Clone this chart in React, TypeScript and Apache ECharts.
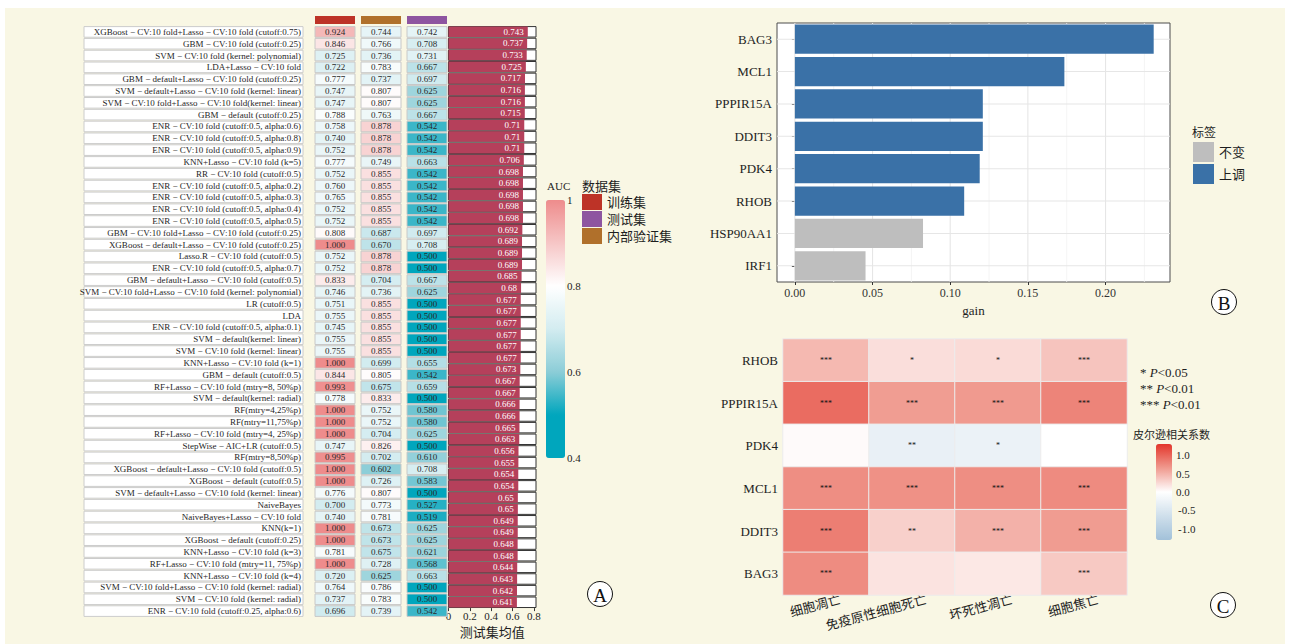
import React, { useEffect, useRef } from "react";
import * as echarts from "echarts";

// ---------- Panel A: model AUC table ----------
const modelNames = [
  "XGBoost − CV:10 fold+Lasso − CV:10 fold (cutoff:0.75)",
  "GBM − CV:10 fold (cutoff:0.25)",
  "SVM − CV:10 fold (kernel: polynomial)",
  "LDA+Lasso − CV:10 fold",
  "GBM − default+Lasso − CV:10 fold (cutoff:0.25)",
  "SVM − default+Lasso − CV:10 fold (kernel: linear)",
  "SVM − CV:10 fold+Lasso − CV:10 fold(kernel: linear)",
  "GBM − default (cutoff:0.25)",
  "ENR − CV:10 fold (cutoff:0.5, alpha:0.6)",
  "ENR − CV:10 fold (cutoff:0.5, alpha:0.8)",
  "ENR − CV:10 fold (cutoff:0.5, alpha:0.9)",
  "KNN+Lasso − CV:10 fold (k=5)",
  "RR − CV:10 fold (cutoff:0.5)",
  "ENR − CV:10 fold (cutoff:0.5, alpha:0.2)",
  "ENR − CV:10 fold (cutoff:0.5, alpha:0.3)",
  "ENR − CV:10 fold (cutoff:0.5, alpha:0.4)",
  "ENR − CV:10 fold (cutoff:0.5, alpha:0.5)",
  "GBM − CV:10 fold+Lasso − CV:10 fold (cutoff:0.25)",
  "XGBoost − default+Lasso − CV:10 fold (cutoff:0.25)",
  "Lasso.R − CV:10 fold (cutoff:0.5)",
  "ENR − CV:10 fold (cutoff:0.5, alpha:0.7)",
  "GBM − default+Lasso − CV:10 fold (cutoff:0.5)",
  "SVM − CV:10 fold+Lasso − CV:10 fold (kernel: polynomial)",
  "LR (cutoff:0.5)",
  "LDA",
  "ENR − CV:10 fold (cutoff:0.5, alpha:0.1)",
  "SVM − default(kernel: linear)",
  "SVM − CV:10 fold (kernel: linear)",
  "KNN+Lasso − CV:10 fold (k=1)",
  "GBM − default (cutoff:0.5)",
  "RF+Lasso − CV:10 fold (mtry=8, 50%p)",
  "SVM − default(kernel: radial)",
  "RF(mtry=4,25%p)",
  "RF(mtry=11,75%p)",
  "RF+Lasso − CV:10 fold (mtry=4, 25%p)",
  "StepWise − AIC+LR (cutoff:0.5)",
  "RF(mtry=8,50%p)",
  "XGBoost − default+Lasso − CV:10 fold (cutoff:0.5)",
  "XGBoost − default (cutoff:0.5)",
  "SVM − default+Lasso − CV:10 fold (kernel: linear)",
  "NaiveBayes",
  "NaiveBayes+Lasso − CV:10 fold",
  "KNN(k=1)",
  "XGBoost − default (cutoff:0.25)",
  "KNN+Lasso − CV:10 fold (k=3)",
  "RF+Lasso − CV:10 fold (mtry=11, 75%p)",
  "KNN+Lasso − CV:10 fold (k=4)",
  "SVM − CV:10 fold+Lasso − CV:10 fold (kernel: radial)",
  "SVM − CV:10 fold (kernel: radial)",
  "ENR − CV:10 fold (cutoff:0.25, alpha:0.6)",
];

const trainAUC = [
  0.924, 0.846, 0.725, 0.722, 0.777, 0.747, 0.747, 0.788, 0.758, 0.74,
  0.752, 0.777, 0.752, 0.76, 0.765, 0.752, 0.752, 0.808, 1.0, 0.752,
  0.752, 0.833, 0.746, 0.751, 0.755, 0.745, 0.755, 0.755, 1.0, 0.844,
  0.993, 0.778, 1.0, 1.0, 1.0, 0.747, 0.995, 1.0, 1.0, 0.776,
  0.7, 0.74, 1.0, 1.0, 0.781, 1.0, 0.72, 0.764, 0.737, 0.696,
];

const internalAUC = [
  0.744, 0.766, 0.736, 0.783, 0.737, 0.807, 0.807, 0.763, 0.878, 0.878,
  0.878, 0.749, 0.855, 0.855, 0.855, 0.855, 0.855, 0.687, 0.67, 0.878,
  0.878, 0.704, 0.736, 0.855, 0.855, 0.855, 0.855, 0.855, 0.699, 0.805,
  0.675, 0.833, 0.752, 0.752, 0.704, 0.826, 0.702, 0.602, 0.726, 0.807,
  0.773, 0.781, 0.673, 0.673, 0.675, 0.728, 0.625, 0.786, 0.783, 0.739,
];

const testAUC = [
  0.742, 0.708, 0.731, 0.667, 0.697, 0.625, 0.625, 0.667, 0.542, 0.542,
  0.542, 0.663, 0.542, 0.542, 0.542, 0.542, 0.542, 0.697, 0.708, 0.5,
  0.5, 0.667, 0.625, 0.5, 0.5, 0.5, 0.5, 0.5, 0.655, 0.542,
  0.659, 0.5, 0.58, 0.58, 0.625, 0.5, 0.61, 0.708, 0.583, 0.5,
  0.527, 0.519, 0.625, 0.625, 0.621, 0.568, 0.663, 0.5, 0.5, 0.542,
];

const meanAUC = [
  0.743, 0.737, 0.733, 0.725, 0.717, 0.716, 0.716, 0.715, 0.71, 0.71,
  0.71, 0.706, 0.698, 0.698, 0.698, 0.698, 0.698, 0.692, 0.689, 0.689,
  0.689, 0.685, 0.68, 0.677, 0.677, 0.677, 0.677, 0.677, 0.677, 0.673,
  0.667, 0.667, 0.666, 0.666, 0.665, 0.663, 0.656, 0.655, 0.654, 0.654,
  0.65, 0.65, 0.649, 0.649, 0.648, 0.648, 0.644, 0.643, 0.642, 0.641,
];

const aucColumns = ["训练集", "内部验证集", "测试集"];
const aucColumnColors = ["#bd3327", "#b0702b", "#8e55a0"];
const datasetLegend = ["训练集", "测试集", "内部验证集"];
const datasetLegendColors = ["#bd3327", "#8e55a0", "#b0702b"];
const aucTicks = [1, 0.8, 0.6, 0.4];
const meanTicks = [0, 0.2, 0.4, 0.6, 0.8];

// ---------- Panel B: feature gain ----------
const genes = ["BAG3", "MCL1", "PPPIR15A", "DDIT3", "PDK4", "RHOB", "HSP90AA1", "IRF1"];
const gains = [0.231, 0.1735, 0.121, 0.121, 0.119, 0.109, 0.0825, 0.0455];
const geneStatus = ["上调", "上调", "上调", "上调", "上调", "上调", "不变", "不变"];
const gainTicks = [0, 0.05, 0.1, 0.15, 0.2];
const gainMinorTicks = [0.025, 0.075, 0.125, 0.175, 0.225];

// ---------- Panel C: correlation heatmap ----------
const deathTypes = ["细胞凋亡", "免疫原性细胞死亡", "坏死性凋亡", "细胞焦亡"];
const corrGenes = ["RHOB", "PPPIR15A", "PDK4", "MCL1", "DDIT3", "BAG3"];
const corrValues = [
  [0.45, 0.21, 0.23, 0.38],
  [0.95, 0.63, 0.65, 0.79],
  [0.03, -0.3, -0.27, 0.0],
  [0.73, 0.71, 0.73, 0.75],
  [0.83, 0.3, 0.5, 0.64],
  [0.74, 0.18, 0.15, 0.35],
];
const corrStars = [
  ["***", "*", "*", "***"],
  ["***", "***", "***", "***"],
  ["", "**", "*", ""],
  ["***", "***", "***", "***"],
  ["***", "**", "***", "***"],
  ["***", "", "", "***"],
];
const corrTicks = [1.0, 0.5, 0.0, -0.5, -1.0];

const FONT = "Liberation Serif, Noto Sans CJK SC, serif";
const TXT = "#1e1e1e";

// row block shared by the three table grids
const ROWS_TOP = 26;
const ROWS_H = 591;

// colour-bar geometry
const AUC_BAR = { left: 546, top: 200, w: 19, h: 258, min: 0.4, max: 1 };
const COR_BAR = { left: 1156, top: 444, w: 16, h: 96, min: -1.3, max: 1.3 };

function barY(bar: typeof AUC_BAR, v: number) {
  return bar.top + ((bar.max - v) / (bar.max - bar.min)) * bar.h;
}

function circleLabel(cx: number, cy: number, letter: string) {
  return [
    { type: "circle", shape: { cx, cy, r: 12.5 }, style: { fill: "#ffffff", stroke: "#111", lineWidth: 1 } },
    {
      type: "text",
      x: cx,
      y: cy + 1,
      style: { text: letter, align: "center", verticalAlign: "middle", fontSize: 19, fontFamily: FONT, fill: "#111" },
    },
  ];
}

export default function App() {
  const ref = useRef<HTMLDivElement>(null);

  useEffect(() => {
    document.body.style.margin = "0";
    const chart = echarts.init(ref.current!, null, { renderer: "svg" });

    const rowIdx = modelNames.map((_, i) => i);
    const labelData = modelNames.map((_, i) => [0, i]);
    const cellData: number[][] = [];
    [trainAUC, internalAUC, testAUC].forEach((arr, c) => arr.forEach((v, r) => cellData.push([c, r, v])));

    const heatData: number[][] = [];
    corrValues.forEach((row, r) => row.forEach((v, c) => heatData.push([c, r, v])));

    // panel B grid lines: [x, y, kind] — 0 major vertical, 1 minor vertical, 2 horizontal
    const gainGridLines: number[][] = [
      ...gainTicks.map((v) => [v, 0, 0]),
      ...gainMinorTicks.map((v) => [v, 0, 1]),
      ...genes.map((_, i) => [0, i, 2]),
    ];

    const rowAxis = (gridIndex: number) => ({
      gridIndex,
      type: "category",
      data: rowIdx,
      inverse: true,
      show: false,
    });

    const txt = (x: number, y: number, text: string, fontSize: number, extra: any = {}) => ({
      type: "text",
      x,
      y,
      style: { text, fontSize, fontFamily: FONT, fill: TXT, verticalAlign: "middle", ...extra },
    });

    const graphics: any[] = [
      // AUC legend
      txt(547, 186, "AUC", 11),
      ...aucTicks.map((t) => txt(567, barY(AUC_BAR, t), String(t), 11)),
      txt(582, 186, "数据集", 13),
      ...datasetLegend.flatMap((name, i) => [
        {
          type: "rect",
          shape: { x: 582, y: 194 + i * 17, width: 20, height: 16 },
          style: { fill: datasetLegendColors[i] },
        },
        txt(607, 202 + i * 17, name, 13),
      ]),
      // panel B legend title
      txt(1192, 133, "标签", 12),
      // panel C significance notes
      ...["*", "**", "***"].map((s, i) => ({
        type: "text",
        x: 1140,
        y: [372, 388, 404][i],
        style: {
          text: `{s|${s} }{p|P}{s|<${i === 0 ? "0.05" : "0.01"}}`,
          verticalAlign: "middle",
          rich: {
            s: { fontSize: 13, fontFamily: FONT, fill: TXT },
            p: { fontSize: 13, fontFamily: FONT, fontStyle: "italic", fill: TXT },
          },
        },
      })),
      txt(1133, 435, "皮尔逊相关系数", 11),
      ...corrTicks.map((t) => txt(t < 0 ? 1178 : 1176, barY(COR_BAR, t), t.toFixed(1), 11)),
      ...circleLabel(600, 594, "A"),
      ...circleLabel(1224, 302, "B"),
      ...circleLabel(1223, 605, "C"),
    ];

    const option: any = {
      animation: false,
      textStyle: { fontFamily: FONT },
      grid: [
        { left: 84, top: ROWS_TOP, width: 219, height: ROWS_H },
        { left: 312, top: ROWS_TOP, width: 138, height: ROWS_H },
        { left: 448.5, top: ROWS_TOP, width: 87.5, height: ROWS_H },
        { left: 777, top: 23, width: 393, height: 259, show: true, backgroundColor: "#ffffff", borderColor: "#4d4d4d", borderWidth: 1 },
        { left: 783, top: 339, width: 344, height: 256 },
      ],
      xAxis: [
        { gridIndex: 0, type: "value", min: 0, max: 1, show: false },
        {
          gridIndex: 1,
          type: "category",
          data: aucColumns,
          position: "top",
          axisLine: { show: false },
          axisTick: { show: false },
          axisLabel: {
            margin: 2,
            formatter: (_v: string, i: number) => `{h${i}| }`,
            rich: Object.fromEntries(
              aucColumnColors.map((c, i) => [`h${i}`, { backgroundColor: c, width: 40, height: 8, fontSize: 1, lineHeight: 8 }])
            ),
          },
        },
        {
          gridIndex: 2,
          type: "value",
          min: 0,
          max: 0.82,
          interval: 0.2,
          axisLine: { show: false },
          axisTick: { show: true, length: 3, lineStyle: { color: "#333" }, customValues: meanTicks },
          axisLabel: {
            margin: 2,
            fontSize: 11,
            fontFamily: FONT,
            color: TXT,
            customValues: meanTicks,
            formatter: (v: number) => String(v),
          },
          splitLine: { show: false },
          name: "测试集均值",
          nameLocation: "middle",
          nameGap: 14,
          nameTextStyle: { fontSize: 13, color: TXT, fontFamily: FONT },
        },
        {
          gridIndex: 3,
          type: "value",
          min: -0.0115,
          max: 0.2415,
          splitNumber: 5,
          axisLine: { show: false },
          axisTick: { show: true, length: 3, lineStyle: { color: "#333" }, customValues: gainTicks },
          axisLabel: {
            margin: 5,
            fontSize: 12,
            fontFamily: FONT,
            color: "#333",
            customValues: gainTicks,
            formatter: (v: number) => v.toFixed(2),
          },
          splitLine: { show: false },
          name: "gain",
          nameLocation: "middle",
          nameGap: 22,
          nameTextStyle: { fontSize: 13, color: TXT, fontFamily: FONT },
        },
        {
          gridIndex: 4,
          type: "category",
          data: deathTypes,
          axisLine: { show: false },
          axisTick: { show: false },
          axisLabel: {
            rotate: 15,
            margin: 8,
            fontSize: 13,
            fontFamily: FONT,
            color: TXT,
            interval: 0,
            padding: [0, -15, 0, 0],
          },
        },
      ],
      yAxis: [
        rowAxis(0),
        rowAxis(1),
        rowAxis(2),
        {
          gridIndex: 3,
          type: "category",
          data: genes,
          inverse: true,
          axisLine: { show: false },
          axisTick: { show: true, alignWithLabel: true, length: 3, lineStyle: { color: "#333" } },
          axisLabel: { fontSize: 13, fontFamily: FONT, color: TXT, margin: 5 },
          splitLine: { show: false },
        },
        {
          gridIndex: 4,
          type: "category",
          data: corrGenes,
          inverse: true,
          axisLine: { show: false },
          axisTick: { show: false },
          axisLabel: { fontSize: 13, fontFamily: FONT, color: TXT, margin: 5 },
        },
      ],
      visualMap: [
        {
          type: "continuous",
          seriesIndex: 1,
          dimension: 2,
          min: AUC_BAR.min,
          max: AUC_BAR.max,
          left: AUC_BAR.left,
          top: AUC_BAR.top,
          itemWidth: AUC_BAR.w,
          itemHeight: AUC_BAR.h,
          padding: 0,
          calculable: false,
          inRange: { color: ["#00a6bd", "#00a6bd", "#8ccdd7", "#d3ecf0", "#ffffff", "#f6c6c6", "#ee8c8c"] },
        },
        {
          type: "continuous",
          seriesIndex: 6,
          dimension: 2,
          min: COR_BAR.min,
          max: COR_BAR.max,
          left: COR_BAR.left,
          top: COR_BAR.top,
          itemWidth: COR_BAR.w,
          itemHeight: COR_BAR.h,
          padding: 0,
          calculable: false,
          inRange: { color: ["#a2c1d9", "#cfdfeb", "#ffffff", "#f09a8f", "#e3362b"] },
        },
      ],
      legend: {
        data: ["不变", "上调"],
        orient: "vertical",
        left: 1193,
        top: 142,
        itemWidth: 21,
        itemHeight: 20,
        itemGap: 2,
        icon: "rect",
        padding: 0,
        textStyle: { fontSize: 13, color: TXT, fontFamily: FONT },
      },
      graphic: graphics,
      series: [
        // 0: model name boxes
        {
          type: "custom",
          xAxisIndex: 0,
          yAxisIndex: 0,
          data: labelData,
          encode: { x: 0, y: 1 },
          renderItem: (_p: any, api: any) => {
            const r = api.value(1);
            const a = api.coord([0, r]);
            const b = api.coord([1, r]);
            const h = api.size([0, 1])[1];
            return {
              type: "group",
              children: [
                {
                  type: "rect",
                  shape: { x: a[0], y: a[1] - h / 2 + 0.6, width: b[0] - a[0], height: h - 1.2 },
                  style: { fill: "#ffffff", stroke: "#cccccc", lineWidth: 1 },
                },
                {
                  type: "text",
                  x: b[0] - 2,
                  y: a[1],
                  style: {
                    text: modelNames[r],
                    align: "right",
                    verticalAlign: "middle",
                    fontSize: 9,
                    fontFamily: FONT,
                    fill: TXT,
                  },
                },
              ],
            };
          },
        },
        // 1: AUC cells
        {
          type: "custom",
          xAxisIndex: 1,
          yAxisIndex: 1,
          data: cellData,
          encode: { x: 0, y: 1 },
          renderItem: (_p: any, api: any) => {
            const c = api.value(0);
            const r = api.value(1);
            const v = api.value(2);
            const p = api.coord([c, r]);
            const h = api.size([1, 1])[1];
            return {
              type: "group",
              children: [
                {
                  type: "rect",
                  shape: { x: p[0] - 20, y: p[1] - h / 2 + 0.6, width: 40, height: h - 1.2 },
                  style: { fill: api.visual("color"), stroke: "#c8c8c8", lineWidth: 1 },
                },
                {
                  type: "text",
                  x: p[0],
                  y: p[1],
                  style: {
                    text: v.toFixed(3),
                    align: "center",
                    verticalAlign: "middle",
                    fontSize: 9,
                    fontFamily: FONT,
                    fill: "#2a2a2a",
                  },
                },
              ],
            };
          },
        },
        // 2: mean test AUC bars
        {
          type: "bar",
          xAxisIndex: 2,
          yAxisIndex: 2,
          data: meanAUC,
          barCategoryGap: "10%",
          itemStyle: { color: "#b5405b" },
          showBackground: true,
          backgroundStyle: { color: "#ffffff", borderColor: "#333333", borderWidth: 1 },
          label: {
            show: true,
            position: "insideRight",
            distance: 4,
            color: "#ffffff",
            fontSize: 9,
            fontFamily: FONT,
            formatter: (p: any) => String(p.value),
          },
        },
        // 3: panel B background grid lines
        {
          type: "custom",
          xAxisIndex: 3,
          yAxisIndex: 3,
          data: gainGridLines,
          encode: { x: 0, y: 1 },
          silent: true,
          z: 1,
          renderItem: (params: any, api: any) => {
            const cs = params.coordSys;
            const kind = api.value(2);
            const p = api.coord([api.value(0), api.value(1)]);
            const shape =
              kind === 2
                ? { x1: cs.x, y1: p[1], x2: cs.x + cs.width, y2: p[1] }
                : { x1: p[0], y1: cs.y, x2: p[0], y2: cs.y + cs.height };
            return {
              type: "line",
              shape,
              style: { stroke: kind === 1 ? "#f1f1f1" : "#e6e6e6", lineWidth: kind === 1 ? 0.8 : 1.1 },
            };
          },
        },
        // 4/5: gain bars by status
        {
          name: "不变",
          type: "bar",
          xAxisIndex: 3,
          yAxisIndex: 3,
          z: 3,
          barCategoryGap: "10%",
          barGap: "-100%",
          itemStyle: { color: "#bebebe" },
          data: gains.map((g, i) => (geneStatus[i] === "不变" ? g : "-")),
        },
        {
          name: "上调",
          type: "bar",
          xAxisIndex: 3,
          yAxisIndex: 3,
          z: 3,
          barCategoryGap: "10%",
          barGap: "-100%",
          itemStyle: { color: "#3a71a7" },
          data: gains.map((g, i) => (geneStatus[i] === "上调" ? g : "-")),
        },
        // 6: correlation heatmap
        {
          type: "heatmap",
          xAxisIndex: 4,
          yAxisIndex: 4,
          data: heatData,
          itemStyle: { borderColor: "#ececec", borderWidth: 1 },
          label: {
            show: true,
            fontSize: 8,
            color: "#111",
            fontFamily: FONT,
            formatter: (p: any) => corrStars[p.value[1]][p.value[0]],
          },
        },
      ],
    };

    chart.setOption(option);
    return () => chart.dispose();
  }, []);

  return (
    <div style={{ position: "fixed", left: 0, top: 0, width: 1290, height: 644, background: "#ffffff" }}>
      <div style={{ position: "absolute", left: 5, top: 8, width: 1280, height: 636, background: "#f9f7e4" }} />
      <div ref={ref} style={{ position: "absolute", left: 0, top: 0, width: 1290, height: 644 }} />
    </div>
  );
}
